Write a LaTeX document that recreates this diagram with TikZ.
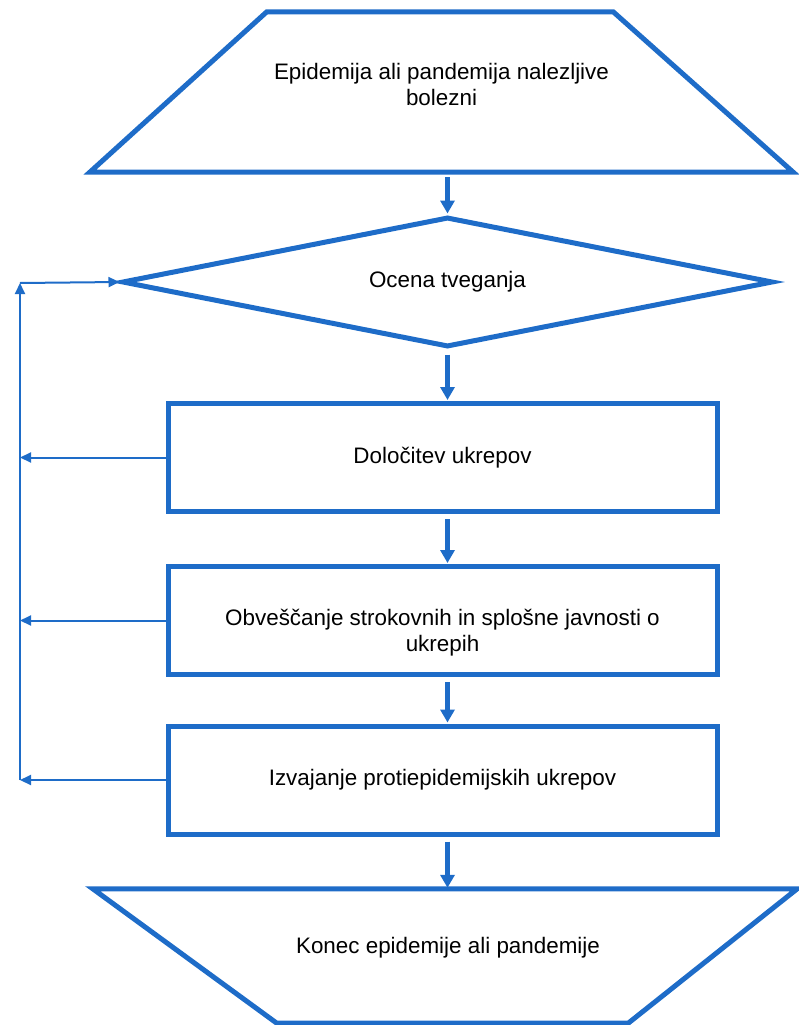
\documentclass[tikz,border=0pt]{standalone}
\usepackage{fontspec}
\setmainfont{Liberation Sans}
\usetikzlibrary{shapes.geometric,arrows.meta}
\definecolor{flowblue}{RGB}{30,108,200}

\begin{document}
\begin{tikzpicture}[x=1pt, y=-1pt,
    every node/.style={font=\fontsize{22.4}{26}\selectfont, align=center, inner sep=0pt},
    stage/.style={draw=flowblue, line width=5pt, rectangle, minimum width=549pt, minimum height=108pt},
    endbox/.style={rectangle},
    endline/.style={draw=flowblue, line width=5pt},
    flow/.style={flowblue, line width=5pt, -{Triangle[length=13pt,width=14pt]}, shorten <=5pt, shorten >=1pt},
    back/.style={flowblue, line width=2pt, -{Triangle[length=11pt,width=10pt]}}]

        \useasboundingbox (0,0) rectangle (798,1025);

        % start and end of the process (trapezoids drawn round their nodes)
        \node[endbox, minimum width=703pt, minimum height=160pt,
              label={[shift={(0,-8)}]center:Epidemija ali pandemija nalezljive\\bolezni}] (epi) at (441.5,92) {};
        \draw[endline] ([xshift=177pt]epi.north west) -- ([xshift=-180pt]epi.north east)
              -- (epi.south east) -- (epi.south west) -- cycle;

        \node[endbox, minimum width=704pt, minimum height=134pt,
              label={[shift={(3,-8)}]center:Konec epidemije ali pandemije}] (konec) at (445,956) {};
        \draw[endline] (konec.north west) -- (konec.north east)
              -- ([xshift=-169pt]konec.south east) -- ([xshift=184pt]konec.south west) -- cycle;

        \node[draw=flowblue, line width=5pt, diamond, aspect=5,
              minimum width=651pt, minimum height=130pt] (ocena) at (447.5,282) {Ocena tveganja};

        \node[stage] (doloc) at (442.5,457.5) {Določitev ukrepov};
        \node[stage, label={[shift={(0,12)}]center:Obveščanje strokovnih in splošne javnosti o\\ukrepih}] (obvesc) at (442.5,620.5) {};
        \node[stage] (izvaj) at (442.5,780) {Izvajanje protiepidemijskih ukrepov};

        % main flow, straight down
        \draw[flow] (epi.south -| ocena.north) -- (ocena.north);
        \draw[flow] (ocena.south) -- (ocena.south |- doloc.north);
        \draw[flow] (doloc.south -| ocena.south) -- (obvesc.north -| ocena.south);
        \draw[flow] (obvesc.south -| ocena.south) -- (izvaj.north -| ocena.south);
        \draw[flow] (izvaj.south -| ocena.south) -- (konec.north -| ocena.south);

        % feedback line on the left
        \coordinate (backtop) at (20,283);
        \draw[back] (izvaj.west -| backtop) -- (backtop);
        \draw[back] (backtop) -- (ocena.west);
        \foreach \b in {doloc, obvesc, izvaj}{
          \draw[back] (\b.west) -- (\b.west -| backtop);
          }
      \end{tikzpicture}
\end{document}
